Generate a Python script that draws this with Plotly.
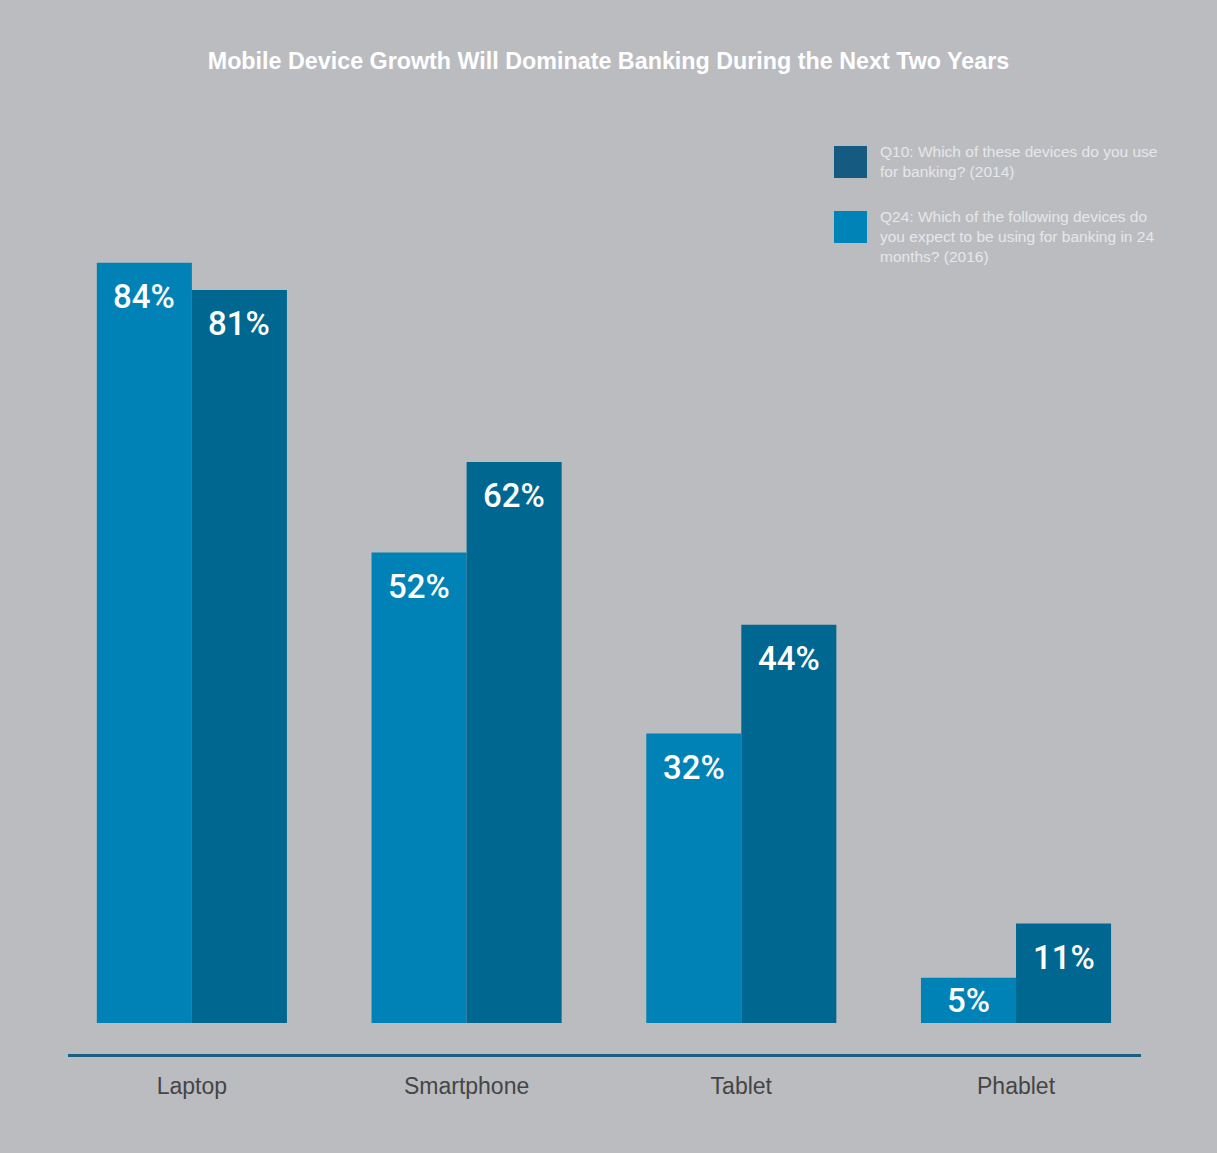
import plotly.graph_objects as go

categories = ["Laptop", "Smartphone", "Tablet", "Phablet"]
q24_2016 = [84, 52, 32, 5]
q10_2014 = [81, 62, 44, 11]
q24_name = "Q24: Which of the following devices do<br>you expect to be using for banking in 24<br>months? (2016)"
q10_name = "Q10: Which of these devices do you use<br>for banking? (2014)"
title_text = "Mobile Device Growth Will Dominate Banking During the Next Two Years"

BG = "#bbbcc0"
LIGHT = "#0082b6"
DARK = "#006890"
LEG_DARK = "#155a80"
LEG_LIGHT = "#0084b8"
FONT = "Liberation Sans, Arial, sans-serif"

xs = list(range(len(categories)))

W, H = 1217, 1153
PLOT_L, PLOT_R, PLOT_T, PLOT_B = 68, 1141, 200, 1054
PX_PER_UNIT = 9.05
y0 = -31 / PX_PER_UNIT
y1 = y0 + (PLOT_B - PLOT_T) / PX_PER_UNIT

fig = go.Figure()
fig.add_trace(go.Bar(x=xs, y=q24_2016, name=q24_name, marker=dict(color=LIGHT, line=dict(width=0)),
                     showlegend=False))
fig.add_trace(go.Bar(x=xs, y=q10_2014, name=q10_name, marker=dict(color=DARK, line=dict(width=0)),
                     showlegend=False))

bargap = 0.308
half = (1 - bargap) / 4
for series, off in ((q24_2016, -half), (q10_2014, half)):
    for i, v in enumerate(series):
        shift = min(34, v * PX_PER_UNIT / 2)
        fig.add_annotation(x=xs[i] + off, y=v, text=f"{v}%", showarrow=False,
                           xref="x", yref="y", yanchor="middle", yshift=-shift,
                           font=dict(family="Roboto, " + FONT, size=33, color="white", weight=500))

# Manual legend
for color, name, top in ((LEG_DARK, q10_name, 146), (LEG_LIGHT, q24_name, 211)):
    fig.add_shape(type="rect", xref="paper", yref="paper",
                  x0=(834 - PLOT_L) / (PLOT_R - PLOT_L), x1=(867 - PLOT_L) / (PLOT_R - PLOT_L),
                  y0=(PLOT_B - (top + 32)) / (PLOT_B - PLOT_T), y1=(PLOT_B - top) / (PLOT_B - PLOT_T),
                  fillcolor=color, line=dict(width=0))
    fig.add_annotation(xref="paper", yref="paper",
                       x=(878 - PLOT_L) / (PLOT_R - PLOT_L), y=(PLOT_B - top + 5) / (PLOT_B - PLOT_T),
                       xanchor="left", yanchor="top", align="left", showarrow=False,
                       text=name, font=dict(family=FONT, size=15.5, color="#e6e7ea"))

fig.update_layout(
    width=W, height=H,
    paper_bgcolor=BG, plot_bgcolor=BG,
    margin=dict(l=PLOT_L, r=W - PLOT_R, t=PLOT_T, b=H - PLOT_B, pad=0),
    barmode="group", bargap=bargap, bargroupgap=0,
    title=dict(text=f"<b>{title_text}</b>", x=0.5, xanchor="center", y=1 - 61 / H, yanchor="middle",
               font=dict(family=FONT, size=23.3, color="white")),
    xaxis=dict(range=[-0.451, 3.455], tickvals=xs, ticktext=categories, showgrid=False,
               zeroline=False, showline=True, linecolor="#1a5f85", linewidth=3,
               ticks="", ticklabelstandoff=9,
               tickfont=dict(family=FONT, size=23, color="#454545")),
    yaxis=dict(range=[y0, y1], visible=False, showgrid=False, zeroline=False),
    font=dict(family=FONT),
)

fig.write_html("out.html")
